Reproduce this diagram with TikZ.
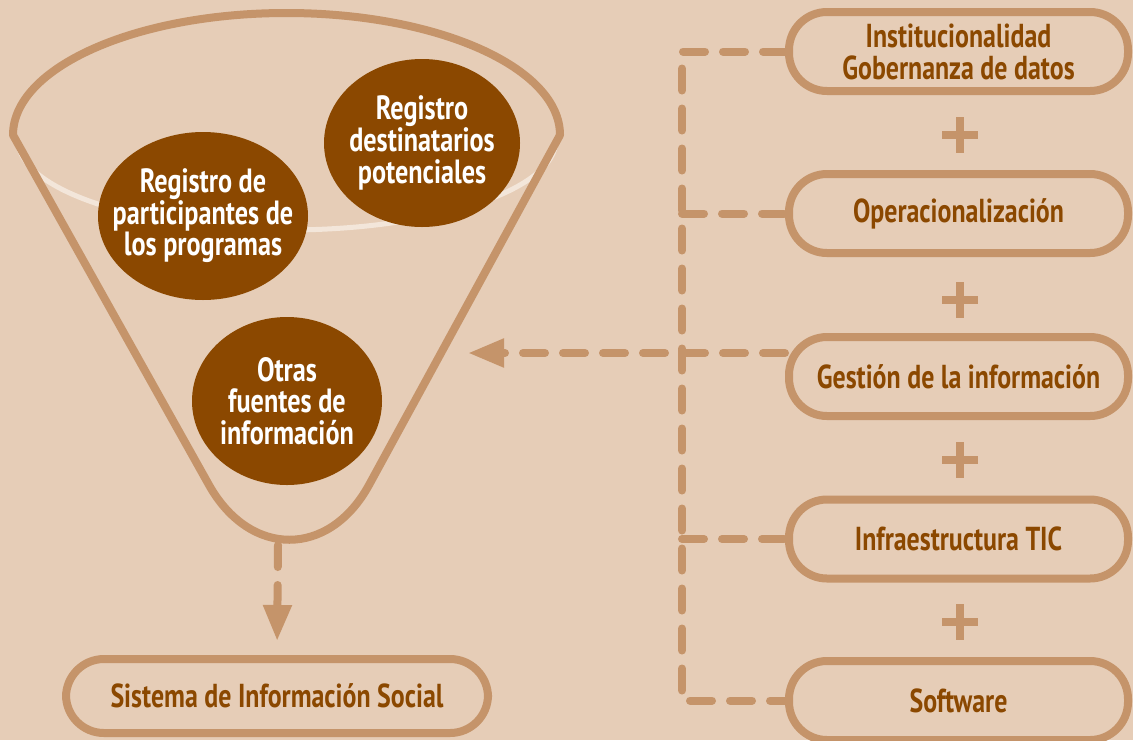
\documentclass[tikz,border=0pt]{standalone}
\usepackage{fontspec}
\setmainfont{PT Sans}[FakeStretch=0.78]
\usetikzlibrary{arrows.meta}
\definecolor{sand}{HTML}{E6CDB7}
\definecolor{clay}{HTML}{C5946A}
\definecolor{umber}{HTML}{8B4800}
\definecolor{cream}{HTML}{F3E6DA}
\begin{document}
\begin{tikzpicture}[x=0.5pt, y=-0.5pt,
        blob/.style={fill=umber},
        blobtext/.style={text=white, inner sep=0pt, align=center, font=\bfseries\fontsize{16.8}{15.8}\selectfont},
        pill/.style={rectangle, rounded corners=19pt, draw=clay, line width=4pt, text=umber, align=center, font=\bfseries\fontsize{16.6}{16}\selectfont, minimum width=169.5pt, minimum height=39.5pt},
        link/.style={draw=clay, line width=4pt, dash pattern=on 11pt off 9pt, line cap=round, line join=round},
        arrowed/.style={-{Triangle[length=18pt, width=13.5pt]}, clay},
        plussign/.style={draw=clay, line width=4pt}
    ]
    \useasboundingbox (0,0) rectangle (1133,740);
    \fill[sand] (0,0) rectangle (1133,740);

    % Funnel
    \draw[cream, line width=2.5pt] (18,140) arc[start angle=180, end angle=0, x radius=269, y radius=90];
    \draw[clay, line width=4pt, line join=round] (560,135) -- (369,485) .. controls (329,558) and (250,558) .. (209,485) -- (13,135) arc[start angle=180, end angle=360, x radius=273.5, y radius=122] -- cycle;
    \coordinate (spout) at (278,545);
    \coordinate (intake) at (468,353);

    % Sources inside the funnel
    \fill[blob] (203,216) ellipse [x radius=105, y radius=84];
    \fill[blob] (422,143) ellipse [x radius=98, y radius=84];
    \fill[blob] (287,401) ellipse [x radius=95, y radius=84];
    \node[blobtext] (part) at (203,216) {Registro de\\participantes de\\los programas};
    \node[blobtext] (dest) at (422,143) {Registro\\destinatarios\\potenciales};
    \node[blobtext] (otras) at (287,401) {Otras\\fuentes de\\información};

    % Output
    \node[pill, minimum width=211pt, minimum height=37pt] (sis) at (277,696) {Sistema de Información Social};

    % Components
    \node[pill] (b1) at (958.5,51.5) {Institucionalidad\\Gobernanza de datos};
    \node[pill] (b2) at (958.5,213.5) {Operacionalización};
    \node[pill] (b3) at (958.5,376.5) {Gestión de la información};
    \node[pill] (b4) at (958.5,539) {Infraestructura TIC};
    \node[pill] (b5) at (958.5,700.5) {Software};

    % Plus signs
    \foreach \y in {135,300,460,622}
        \draw[plussign] (960,\y) ++(-18,0) -- ++(36,0) (960,\y) ++(0,-18) -- ++(0,36);

    % Dashed bracket
    \coordinate (spine) at (682,0);
    \draw[link] (b1.west) -- (b1.west -| spine) -- (b5.west -| spine) -- (b5.west);
    \foreach \b in {b2, b4}
        \draw[link] (\b.west -| spine) -- (\b.west);

    % Arrows
    \draw[link, arrowed] (intake -| b3.west) -- (intake);
    \draw[link, arrowed, shorten >=7pt] (spout) -- (sis.north);

\end{tikzpicture}
\end{document}
